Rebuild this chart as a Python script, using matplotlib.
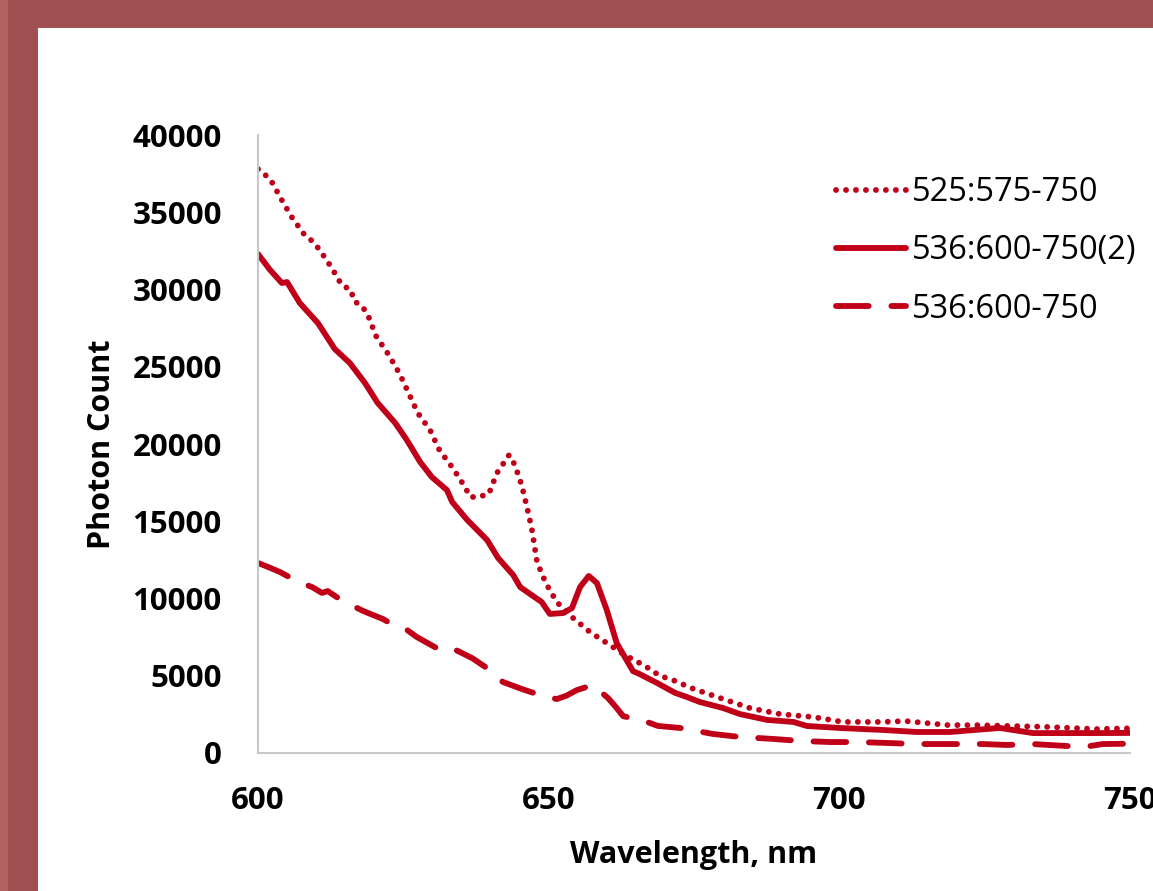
import matplotlib.pyplot as plt
from matplotlib.patches import Rectangle

# --- data ---
wl_525 = [600, 602.1, 604.0, 605.8, 607.9, 609.3, 610.5, 612.6, 614.4, 616.0, 616.5,
          617.9, 618.9, 620.3, 622.4, 624.3, 625.1, 627.5, 629.6, 631.2, 633.5, 635.6,
          636.5, 637.8, 639.7, 641.1, 643.2, 644.2, 645.4, 646.3, 647.1, 648.0, 649.5,
          651.4, 654.0, 657.1, 660.0, 663.1, 666.6, 669.1, 671.4, 674.5, 679.5, 684.6,
          689.8, 695.5, 700.6, 707.5, 711.3, 718.5, 724.0, 729.3, 735.0, 744.3, 750]
cnt_525 = [37800, 37150, 35850, 34690, 33590, 33140, 32620, 31450, 30290, 29970, 29250,
           28930, 28350, 26990, 25820, 24590, 23950, 22000, 20900, 19610, 18450, 17220,
           16570, 16570, 16760, 18120, 19290, 18640, 17280, 15860, 14500, 12360, 11000,
           9770, 8800, 7830, 7120, 6340, 5630, 5000, 4720, 4210, 3560, 2910,
           2520, 2330, 2010, 2010, 2070, 1810, 1800, 1750, 1700, 1550, 1600]

wl_536b = [600, 602, 604.1, 605, 607.2, 610.3, 613.2, 615.8, 618.4, 620.6, 623.6, 625.6,
           627.9, 629.9, 632.5, 633.4, 636.0, 639.4, 641.3, 643.9, 645.1, 648.8, 650.2,
           652.5, 654.0, 655.4, 656.9, 658.3, 660.0, 661.7, 663.1, 664.5, 665.7, 668.8,
           671.7, 673.8, 676.0, 680.0, 682.9, 687.6, 692.1, 694.4, 700.1, 707.5, 713.3,
           719.0, 727.6, 733.3, 739.2, 745.3, 750]
cnt_536b = [32300, 31300, 30420, 30480, 29120, 27830, 26150, 25240, 23950, 22650, 21360, 20260,
            18830, 17860, 17020, 16250, 15080, 13790, 12620, 11520, 10740, 9770, 9000,
            9060, 9380, 10740, 11460, 11000, 9250, 7120, 6210, 5300, 5100, 4500,
            3900, 3620, 3300, 2910, 2520, 2140, 2010, 1750, 1620, 1490, 1360,
            1360, 1620, 1290, 1290, 1290, 1300]

wl_536 = [600, 602, 603.8, 606.0, 607.5, 609.3, 611.0, 612.0, 613.5, 615.0, 618.1, 621.5,
          623.9, 625.5, 627.3, 631.3, 633.4, 636.8, 639.9, 642.1, 645.4, 648.5, 651.4,
          653.0, 654.9, 657.6, 660.2, 661.5, 662.8, 666.9, 668.8, 672.6, 678.3, 682.9,
          688.6, 693.3, 698.4, 703.1, 708.2, 713.3, 719.0, 724.7, 728.8, 733.3, 739.2,
          743.1, 745.3, 750]
cnt_536 = [12300, 12000, 11710, 11260, 11000, 10740, 10360, 10480, 10100, 9770, 9190, 8670,
           8150, 8000, 7510, 6670, 6780, 6150, 5370, 4600, 4140, 3750, 3490,
           3700, 4080, 4400, 3560, 3000, 2390, 2010, 1750, 1620, 1230, 1040,
           910, 780, 710, 710, 650, 580, 580, 580, 520, 580, 450,
           450, 580, 600]

labels = ['525:575-750', '536:600-750(2)', '536:600-750']
xticks = [600, 650, 700, 750]
yticks = list(range(0, 40001, 5000))

red = '#c00018'
font = 'Open Sans'

fig = plt.figure(figsize=(11.53, 8.91), dpi=100, facecolor='#a05050')
# white slide panel behind the chart
fig.add_artist(Rectangle((38 / 1153, 0), 1, 1 - 28 / 891, transform=fig.transFigure,
                         facecolor='white', edgecolor='none', zorder=-10))
fig.add_artist(Rectangle((0, 0), 8 / 1153, 1, transform=fig.transFigure,
                         facecolor='#b46060', edgecolor='none', zorder=-10))

ax = fig.add_axes([258 / 1153, 1 - 753 / 891, (1130 - 258) / 1153, (753 - 135) / 891])
ax.set_zorder(5)
ax.set_facecolor('none')

lw = 4.2
ax.plot(wl_525, cnt_525, color=red, lw=lw, linestyle=(0, (0.01, 1.7)),
        dash_capstyle='round', label=labels[0])
ax.plot(wl_536b, cnt_536b, color=red, lw=lw, solid_capstyle='round',
        solid_joinstyle='round', label=labels[1])
ax.plot(wl_536, cnt_536, color=red, lw=lw, linestyle=(0, (5.6, 3.9)),
        dash_capstyle='round', label=labels[2])

ax.set_xlim(600, 750)
ax.set_ylim(0, 40000)
ax.set_xticks(xticks)
ax.set_yticks(yticks)
ax.tick_params(length=0)
ax.tick_params(axis='y', pad=26)
ax.tick_params(axis='x', pad=24)
for t in ax.get_xticklabels() + ax.get_yticklabels():
    t.set_fontfamily(font)
    t.set_fontweight('bold')
    t.set_fontsize(22.5)

for s in ['top', 'right']:
    ax.spines[s].set_visible(False)
for s in ['left', 'bottom']:
    ax.spines[s].set_color('#c8c8c8')
    ax.spines[s].set_linewidth(1.5)

ax.set_xlabel('Wavelength, nm', fontfamily=font, fontweight='bold', fontsize=22, labelpad=17)
ax.set_ylabel('Photon Count', fontfamily=font, fontweight='bold', fontsize=22, labelpad=11)

leg = ax.legend(loc='upper left', bbox_to_anchor=(836 / 1153, 1 - 176 / 891),
                bbox_transform=fig.transFigure, frameon=False,
                prop={'family': font, 'size': 23.5}, handlelength=2.15,
                handletextpad=0.18, labelspacing=0.78, borderpad=0, borderaxespad=0)

fig.savefig('out.png', dpi=100, facecolor=fig.get_facecolor())
